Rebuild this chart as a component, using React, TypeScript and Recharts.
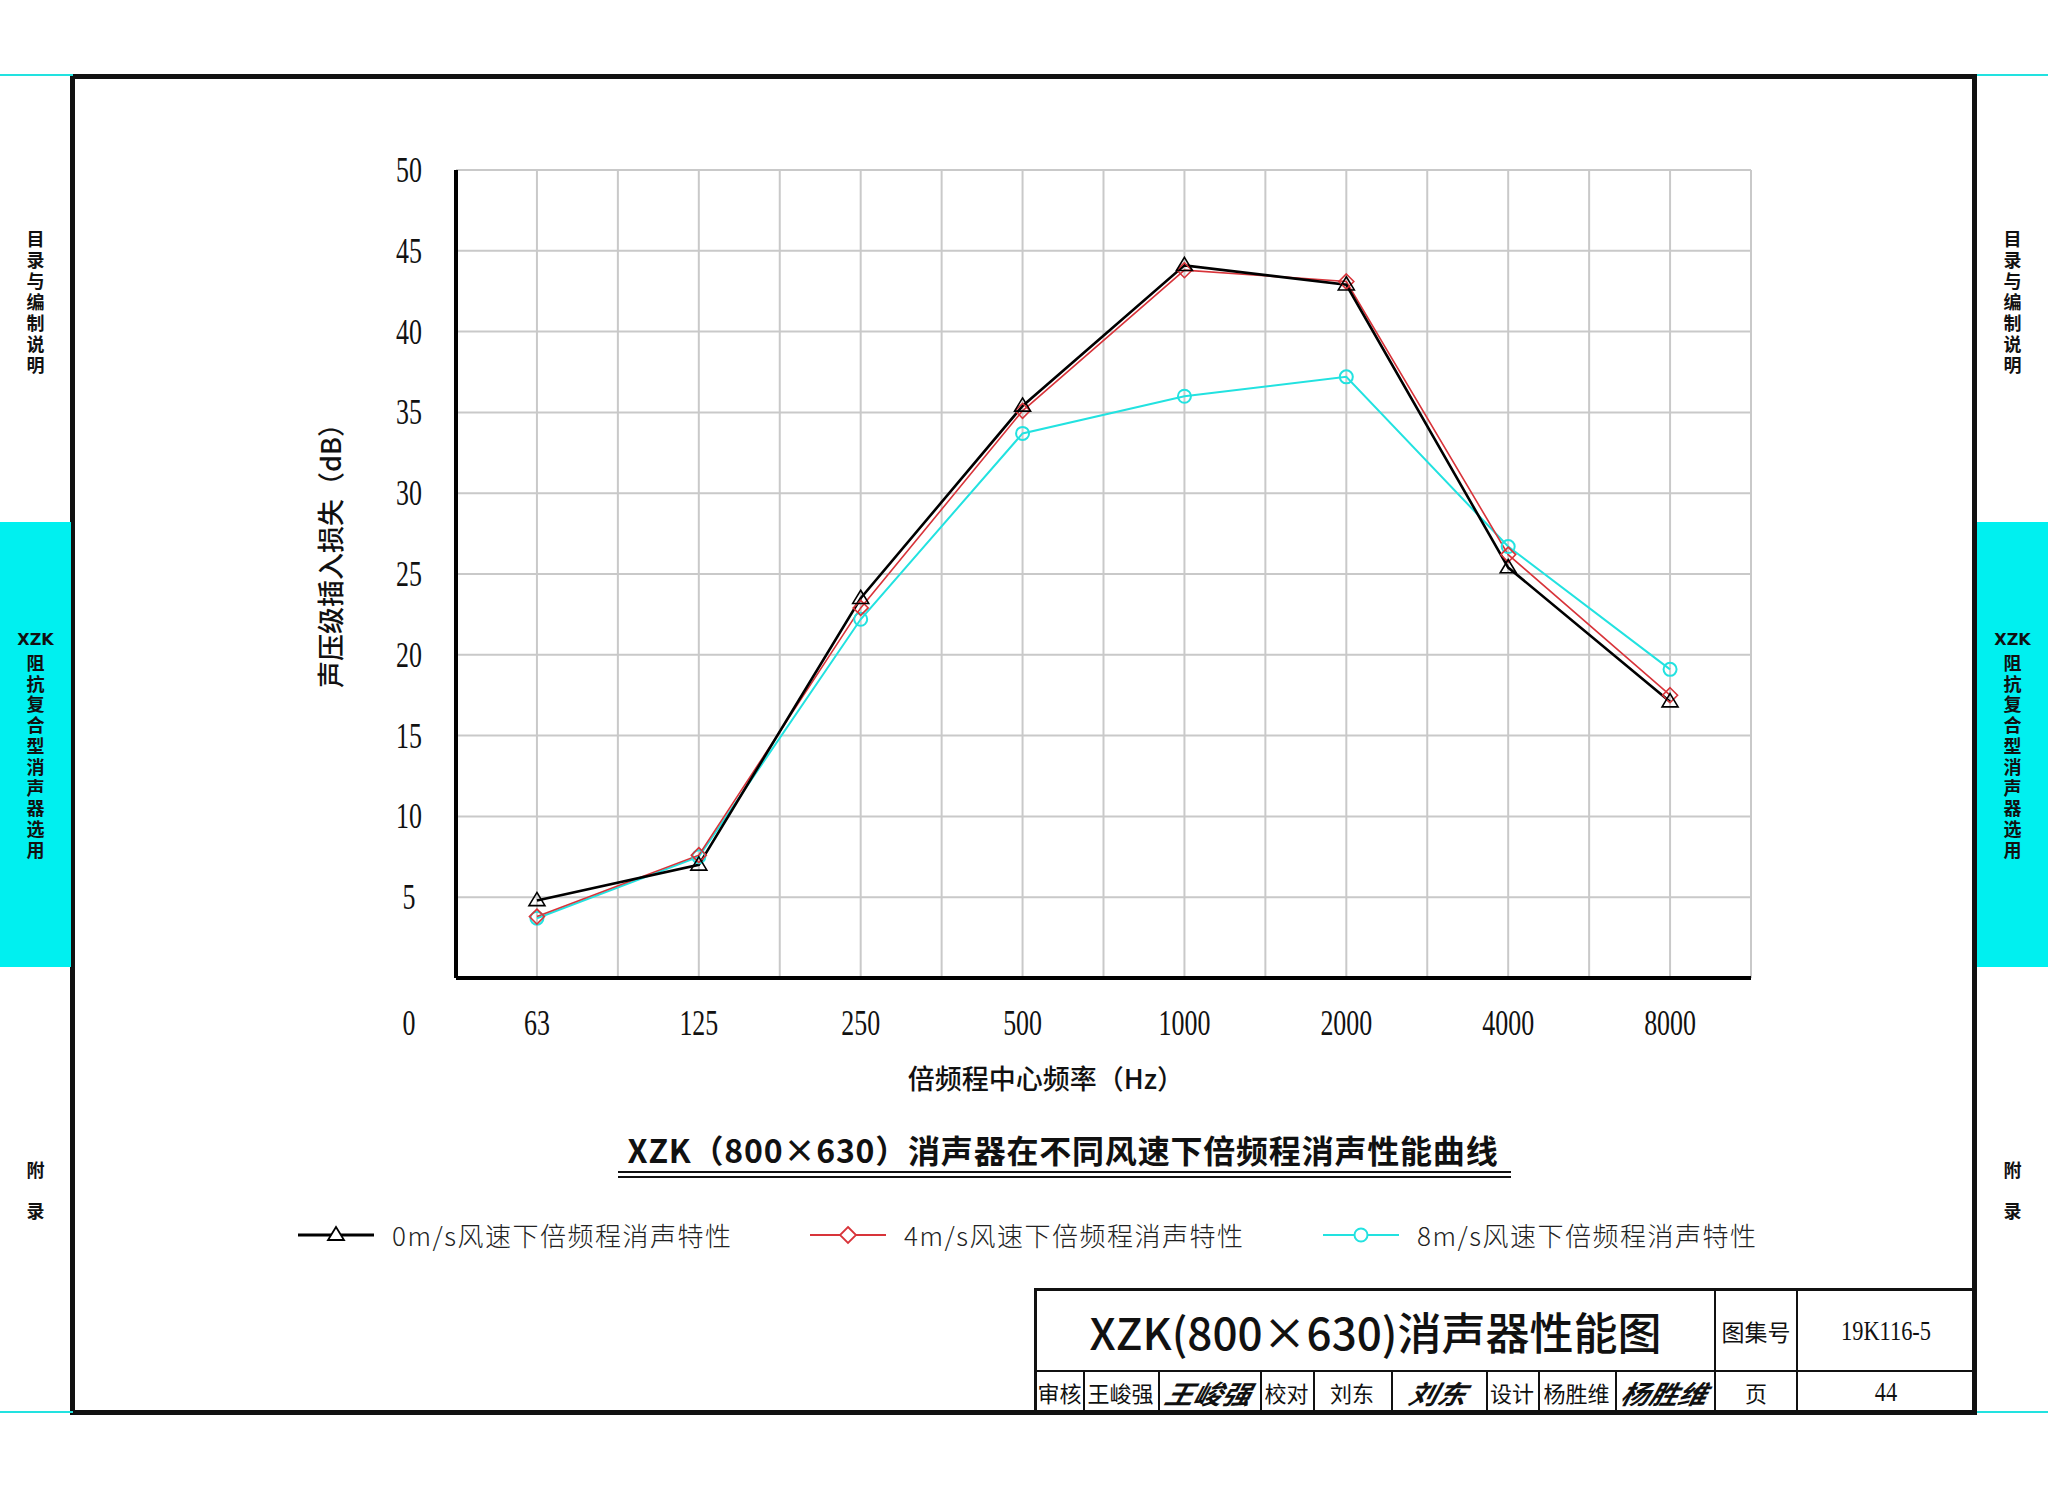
import React from 'react';
import { LineChart, Line, XAxis, YAxis, CartesianGrid, Legend } from 'recharts';

// octave band centre frequencies (Hz)
const frequencies = ['63', '125', '250', '500', '1000', '2000', '4000', '8000'];

// insertion loss (dB) at each wind speed
const speed0 = [4.8, 7.0, 23.5, 35.4, 44.1, 42.9, 25.4, 17.1];
const speed4 = [3.8, 7.6, 22.9, 35.1, 43.8, 43.1, 26.2, 17.5];
const speed8 = [3.7, 7.5, 22.2, 33.7, 36.0, 37.2, 26.7, 19.1];

const seriesNames = [
  '0m/s风速下倍频程消声特性',
  '4m/s风速下倍频程消声特性',
  '8m/s风速下倍频程消声特性',
];
const seriesColors = ['#000000', '#d8343a', '#22e2e0'];

const yTicks = [0, 5, 10, 15, 20, 25, 30, 35, 40, 45, 50];
// every category sits on an odd slot, the even slots carry the extra grid lines
const xSlots = Array.from({ length: frequencies.length * 2 + 1 }, (_, i) => i);

const data = frequencies.map((f, i) => ({
  slot: i * 2 + 1,
  freq: f,
  s0: speed0[i],
  s4: speed4[i],
  s8: speed8[i],
}));

const digitFont = "'Liberation Serif', serif";
const cjkFont = "'Noto Sans CJK SC', 'Noto Sans', sans-serif";

const XTick = (props: any) => {
  const { x, y, payload } = props;
  const v = payload.value;
  if (v % 2 === 0) return null;
  return (
    <g transform={`translate(${x},${y})`}>
      <text
        x={0}
        y={0}
        dy={57}
        transform="scale(0.72,1)"
        textAnchor="middle"
        fontFamily={digitFont}
        fontSize={36}
        fill="#111"
      >
        {frequencies[(v - 1) / 2]}
      </text>
    </g>
  );
};

const YTick = (props: any) => {
  const { x, y, payload } = props;
  const v = payload.value;
  return (
    <g transform={`translate(${x - 47},${y})`}>
      <text
        x={0}
        y={0}
        dy={v === 0 ? 57 : 12}
        transform="scale(0.72,1)"
        textAnchor="middle"
        fontFamily={digitFont}
        fontSize={36}
        fill="#111"
      >
        {v}
      </text>
    </g>
  );
};

const triangleDot = (props: any) => {
  const { cx, cy, index } = props;
  const r = 8;
  return (
    <path
      key={`t${index}`}
      d={`M${cx},${cy - r} L${cx + r},${cy + r * 0.65} L${cx - r},${cy + r * 0.65} Z`}
      fill="none"
      stroke="#000"
      strokeWidth={1.6}
    />
  );
};

const diamondDot = (props: any) => {
  const { cx, cy, index } = props;
  const r = 7.5;
  return (
    <path
      key={`d${index}`}
      d={`M${cx},${cy - r} L${cx + r},${cy} L${cx},${cy + r} L${cx - r},${cy} Z`}
      fill="none"
      stroke="#d8343a"
      strokeWidth={1.6}
    />
  );
};

const circleDot = (props: any) => {
  const { cx, cy, index } = props;
  return (
    <circle key={`c${index}`} cx={cx} cy={cy} r={6.5} fill="none" stroke="#22e2e0" strokeWidth={2} />
  );
};

const LegendMarker = ({ kind, color }: { kind: number; color: string }) => (
  <svg width={76} height={24} style={{ display: 'block' }}>
    <line x1={0} y1={12} x2={76} y2={12} stroke={color} strokeWidth={kind === 0 ? 3 : 2} />
    {kind === 0 && <path d="M38,4 L46,17 L30,17 Z" fill="#fff" stroke={color} strokeWidth={1.8} />}
    {kind === 1 && <path d="M38,4 L46,12 L38,20 L30,12 Z" fill="#fff" stroke={color} strokeWidth={1.8} />}
    {kind === 2 && <circle cx={38} cy={12} r={6.5} fill="#fff" stroke={color} strokeWidth={2} />}
  </svg>
);

const legendLeft = [298, 810, 1323];

const LegendBox = () => (
  <div style={{ position: 'relative', width: 2048, height: 50 }}>
    {seriesNames.map((name, i) => (
      <div
        key={name}
        style={{
          position: 'absolute',
          left: legendLeft[i],
          top: 4,
          display: 'flex',
          alignItems: 'center',
        }}
      >
        <LegendMarker kind={i} color={seriesColors[i]} />
        <span
          style={{
            marginLeft: 18,
            fontFamily: cjkFont,
            fontSize: 26,
            fontWeight: 300,
            letterSpacing: 1.5,
            color: '#222',
            whiteSpace: 'nowrap',
          }}
        >
          {name}
        </span>
      </div>
    ))}
  </div>
);

const abs = (left: number, top: number, width: number, height: number, extra: React.CSSProperties = {}) =>
  ({ position: 'absolute', left, top, width, height, ...extra } as React.CSSProperties);

const vertical: React.CSSProperties = {
  writingMode: 'vertical-rl',
  textOrientation: 'upright',
  fontFamily: cjkFont,
  fontWeight: 700,
  fontSize: 18,
  lineHeight: '22px',
  color: '#111',
  whiteSpace: 'nowrap',
};

const SideBar = ({ left }: { left: number }) => (
  <>
    <div style={abs(left, 74, 73, 2, { background: '#22e2e0' })} />
    <div style={abs(left, 1411, 73, 2, { background: '#22e2e0' })} />
    <div style={abs(left, 522, 71, 445, { background: '#00f0f0' })} />
    <div style={abs(left, 230, 71, 160, { display: 'flex', justifyContent: 'center' })}>
      <div style={{ ...vertical, letterSpacing: 3 }}>目录与编制说明</div>
    </div>
    <div
      style={abs(left, 630, 71, 245, {
        display: 'flex',
        flexDirection: 'column',
        alignItems: 'center',
      })}
    >
      <div
        style={{
          fontFamily: "'DejaVu Sans', sans-serif",
          fontWeight: 700,
          fontSize: 16,
          lineHeight: '20px',
          color: '#111',
        }}
      >
        XZK
      </div>
      <div style={{ ...vertical, letterSpacing: 2.8, marginTop: 4 }}>阻抗复合型消声器选用</div>
    </div>
    <div style={abs(left, 1161, 71, 80, { display: 'flex', justifyContent: 'center' })}>
      <div style={{ ...vertical, letterSpacing: 23 }}>附录</div>
    </div>
  </>
);

const cellText = (left: number, right: number, top: number, bottom: number, text: string, style: React.CSSProperties = {}) => (
  <div
    style={abs(left, top, right - left, bottom - top, {
      display: 'flex',
      alignItems: 'center',
      justifyContent: 'center',
      fontFamily: cjkFont,
      fontSize: 22,
      color: '#111',
      whiteSpace: 'nowrap',
      ...style,
    })}
  >
    {text}
  </div>
);

const sig: React.CSSProperties = {
  fontStyle: 'italic',
  fontWeight: 700,
  fontSize: 26,
  transform: 'skewX(-14deg) scaleX(1.1)',
};

const vLines = [1083, 1158, 1260, 1313, 1391, 1486, 1538, 1615];

const TitleBlock = () => (
  <>
    <div style={abs(1034, 1288, 943, 3, { background: '#111' })} />
    <div style={abs(1034, 1288, 3, 125, { background: '#111' })} />
    <div style={abs(1036, 1370, 940, 2, { background: '#111' })} />
    <div style={abs(1714, 1288, 2, 125, { background: '#111' })} />
    <div style={abs(1796, 1288, 2, 125, { background: '#111' })} />
    {vLines.map((x) => (
      <div key={x} style={abs(x, 1371, 2, 42, { background: '#111' })} />
    ))}
    {cellText(1036, 1715, 1291, 1371, 'XZK(800×630)消声器性能图', { fontSize: 44, fontWeight: 500 })}
    {cellText(1715, 1797, 1291, 1371, '图集号', { fontSize: 23 })}
    {cellText(1797, 1975, 1291, 1371, '19K116-5', { fontFamily: digitFont, fontSize: 28, transform: 'scaleX(0.8)' })}
    {cellText(1036, 1083, 1371, 1413, '审核')}
    {cellText(1083, 1158, 1371, 1413, '王峻强')}
    {cellText(1158, 1260, 1371, 1413, '王峻强', sig)}
    {cellText(1260, 1313, 1371, 1413, '校对')}
    {cellText(1313, 1391, 1371, 1413, '刘东')}
    {cellText(1391, 1486, 1371, 1413, '刘东', sig)}
    {cellText(1486, 1538, 1371, 1413, '设计')}
    {cellText(1538, 1615, 1371, 1413, '杨胜维')}
    {cellText(1615, 1715, 1371, 1413, '杨胜维', sig)}
    {cellText(1715, 1797, 1371, 1413, '页')}
    {cellText(1797, 1975, 1371, 1413, '44', { fontFamily: digitFont, fontSize: 28, transform: 'scaleX(0.8)' })}
  </>
);

export default function App() {
  return (
    <div style={abs(0, 0, 2048, 1488, { background: '#fff', overflow: 'hidden' })}>
      <div style={abs(0, 0, 2048, 1488)}>
        <LineChart
          width={2048}
          height={1488}
          data={data}
          margin={{ top: 170, right: 297, bottom: 450, left: 396 }}
        >
          <CartesianGrid stroke="#c9c9c9" strokeWidth={2} />
          <XAxis
            type="number"
            dataKey="slot"
            domain={[0, xSlots.length - 1]}
            ticks={xSlots}
            interval={0}
            height={60}
            tickSize={0}
            tickMargin={0}
            tickLine={false}
            axisLine={{ stroke: '#000', strokeWidth: 4 }}
            tick={<XTick />}
          />
          <YAxis
            type="number"
            domain={[0, 50]}
            ticks={yTicks}
            interval={0}
            width={60}
            tickSize={0}
            tickMargin={0}
            tickLine={false}
            axisLine={{ stroke: '#000', strokeWidth: 4 }}
            tick={<YTick />}
          />
          <Legend
            layout="horizontal"
            verticalAlign="middle"
            align="center"
            wrapperStyle={{ left: 0, top: 1212, width: 2048, height: 50 }}
            content={() => <LegendBox />}
          />
          <Line
            type="linear"
            dataKey="s8"
            name={seriesNames[2]}
            stroke={seriesColors[2]}
            strokeWidth={2}
            dot={circleDot}
            activeDot={false}
            isAnimationActive={false}
          />
          <Line
            type="linear"
            dataKey="s4"
            name={seriesNames[1]}
            stroke={seriesColors[1]}
            strokeWidth={1.6}
            dot={diamondDot}
            activeDot={false}
            isAnimationActive={false}
          />
          <Line
            type="linear"
            dataKey="s0"
            name={seriesNames[0]}
            stroke={seriesColors[0]}
            strokeWidth={2.6}
            dot={triangleDot}
            activeDot={false}
            isAnimationActive={false}
          />
        </LineChart>
      </div>

      {/* axis titles */}
      <div
        style={abs(329 - 160, 549 - 20, 320, 40, {
          display: 'flex',
          alignItems: 'center',
          justifyContent: 'center',
          transform: 'rotate(-90deg)',
          fontFamily: cjkFont,
          fontWeight: 500,
          fontSize: 27,
          color: '#111',
          whiteSpace: 'nowrap',
        })}
      >
        声压级插入损失（dB）
      </div>
      {cellText(846, 1246, 1057, 1097, '倍频程中心频率（Hz）', { fontSize: 27, fontWeight: 500 })}

      {/* chart caption with double underline */}
      {cellText(563, 1563, 1127, 1170, 'XZK（800×630）消声器在不同风速下倍频程消声性能曲线', {
        fontSize: 32,
        fontWeight: 600,
        letterSpacing: 0.8,
      })}
      <div style={abs(618, 1171, 893, 2, { background: '#111' })} />
      <div style={abs(618, 1176, 893, 2, { background: '#111' })} />

      {/* drawing frame */}
      <div style={abs(70, 74, 1907, 1341, { border: '5px solid #111', boxSizing: 'border-box' })} />
      <SideBar left={0} />
      <SideBar left={1977} />
      <TitleBlock />
    </div>
  );
}
